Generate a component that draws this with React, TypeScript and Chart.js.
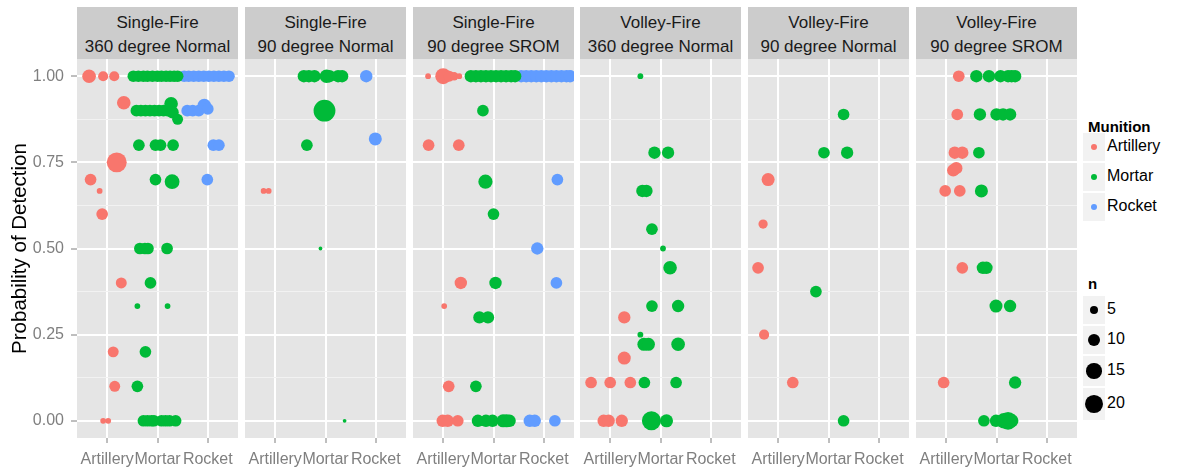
import React, { useEffect, useRef } from "react";
import { Chart, registerables } from "chart.js";

Chart.register(...registerables);

const FONT = '"Liberation Sans", Arial, Helvetica, sans-serif';

const munitions = ["Artillery", "Mortar", "Rocket"];
const munitionColors = ["#F8766D", "#00BA38", "#619CFF"];
const fireModes = ["Single-Fire", "Single-Fire", "Single-Fire", "Volley-Fire", "Volley-Fire", "Volley-Fire"];
const sectorModes = ["360 degree Normal", "90 degree Normal", "90 degree SROM", "360 degree Normal", "90 degree Normal", "90 degree SROM"];
const majorYTicks = [0, 0.25, 0.5, 0.75, 1];
const minorYTicks = [0.125, 0.375, 0.625, 0.875];
const sizeBreaks = [5, 10, 15, 20];

// Each observation: [horizontal jitter from the munition's category, probability of detection, n]
type Obs = [number, number, number];

// Single-Fire, 360 degree Normal
const sf360Artillery: Obs[] = [
  [-0.36, 1, 12], [-0.08, 1, 7], [0.14, 1, 7], [0.33, 0.923, 12], [0.19, 0.75, 25],
  [-0.33, 0.7, 9], [-0.15, 0.667, 3], [-0.1, 0.6, 9], [0.28, 0.4, 8], [0.12, 0.2, 8],
  [0.15, 0.1, 8], [-0.08, 0, 3], [0.02, 0, 3],
];
const sf360Mortar: Obs[] = [
  [-0.48, 1, 9], [-0.38, 1, 9], [-0.28, 1, 9], [-0.2, 1, 9], [-0.1, 1, 9], [0, 1, 9],
  [0.08, 1, 9], [0.17, 1, 9], [0.25, 1, 9], [0.33, 1, 9], [0.4, 1, 9],
  [-0.42, 0.9, 9], [-0.33, 0.9, 9], [-0.24, 0.9, 9], [-0.15, 0.9, 9], [-0.06, 0.9, 9],
  [0.03, 0.9, 9], [0.12, 0.9, 9], [0.2, 0.9, 9], [0.27, 0.92, 12], [0.3, 0.895, 10],
  [0.4, 0.875, 8],
  [-0.37, 0.8, 9], [-0.04, 0.8, 9], [0.06, 0.8, 9], [0.31, 0.8, 9],
  [-0.04, 0.7, 9], [0.29, 0.694, 14],
  [-0.35, 0.5, 9], [-0.25, 0.5, 9], [-0.19, 0.5, 9], [0.19, 0.5, 9],
  [-0.14, 0.4, 9], [-0.4, 0.333, 3], [0.2, 0.333, 3],
  [-0.24, 0.2, 9], [-0.4, 0.1, 9],
  [-0.28, 0, 9], [-0.2, 0, 9], [-0.12, 0, 9], [-0.07, 0, 9], [0.08, 0, 9], [0.16, 0, 9],
  [0.24, 0, 9], [0.36, 0, 9],
];
const sf360Rocket: Obs[] = [
  [-0.47, 1, 9], [-0.38, 1, 9], [-0.28, 1, 9], [-0.18, 1, 9], [-0.08, 1, 9], [0.02, 1, 9],
  [0.12, 1, 9], [0.22, 1, 9], [0.32, 1, 9], [0.42, 1, 9],
  [-0.41, 0.9, 9], [-0.3, 0.9, 9], [-0.18, 0.9, 9], [-0.07, 0.915, 12], [0, 0.905, 9],
  [0.11, 0.8, 9], [0.22, 0.8, 9], [-0.01, 0.7, 9],
];

// Single-Fire, 90 degree Normal
const sf90Artillery: Obs[] = [[-0.23, 0.667, 3], [-0.13, 0.667, 3]];
const sf90Mortar: Obs[] = [
  [-0.43, 1, 10], [-0.33, 1, 10], [-0.22, 1, 10], [0.02, 1, 12], [0.08, 1, 10], [0.25, 1, 10],
  [0.33, 1, 10], [-0.02, 0.9, 30], [-0.37, 0.8, 9], [-0.1, 0.5, 2], [0.38, 0, 2],
];
const sf90Rocket: Obs[] = [[-0.19, 1, 10], [-0.01, 0.818, 11]];

// Single-Fire, 90 degree SROM
const sf90sromArtillery: Obs[] = [
  [-0.3, 1, 3], [0, 1, 16], [0.12, 1, 8], [0.22, 1, 5], [0.32, 1, 3],
  [-0.29, 0.8, 9], [0.31, 0.8, 9], [0.35, 0.4, 10], [0.02, 0.333, 3], [0.11, 0.1, 9],
  [-0.01, 0, 10], [0.09, 0, 10], [0.29, 0, 9],
];
const sf90sromMortar: Obs[] = [
  [-0.45, 1, 10], [-0.35, 1, 10], [-0.25, 1, 10], [-0.15, 1, 10], [-0.05, 1, 10],
  [0.05, 1, 10], [0.15, 1, 10], [0.25, 1, 10], [0.35, 1, 10], [0.43, 1, 10],
  [-0.21, 0.9, 9], [-0.16, 0.694, 13], [0, 0.6, 9], [0.04, 0.4, 10],
  [-0.28, 0.3, 10], [-0.11, 0.3, 10], [-0.35, 0.1, 9],
  [-0.31, 0, 10], [-0.15, 0, 10], [-0.02, 0, 10], [0.19, 0, 11], [0.26, 0, 11], [0.32, 0, 10],
];
const sf90sromRocket: Obs[] = [
  [-0.45, 1, 10], [-0.35, 1, 10], [-0.25, 1, 10], [-0.15, 1, 10], [-0.05, 1, 10],
  [0.05, 1, 10], [0.15, 1, 10], [0.25, 1, 10], [0.35, 1, 10], [0.45, 1, 10], [0.52, 1, 10],
  [0.27, 0.7, 9], [-0.13, 0.5, 10], [0.25, 0.4, 9],
  [-0.28, 0, 10], [-0.18, 0, 10], [0.22, 0, 9],
];

// Volley-Fire, 360 degree Normal
const vf360Artillery: Obs[] = [
  [0.28, 0.3, 10], [0.28, 0.182, 11], [-0.38, 0.111, 9], [0, 0.111, 9], [0.4, 0.111, 9],
  [-0.13, 0, 10], [-0.03, 0, 10], [0.23, 0, 10],
];
const vf360Mortar: Obs[] = [
  [-0.4, 1, 3], [-0.12, 0.778, 10], [0.15, 0.778, 10], [-0.36, 0.667, 10], [-0.28, 0.667, 10],
  [-0.17, 0.556, 9], [0.05, 0.5, 3], [0.19, 0.444, 12], [-0.17, 0.333, 9], [0.35, 0.333, 10],
  [-0.4, 0.25, 3], [-0.33, 0.222, 11], [-0.24, 0.222, 11], [0.35, 0.222, 12],
  [-0.32, 0.111, 9], [0.31, 0.111, 9], [-0.18, 0, 23], [0.12, 0, 11],
];
const vf360Rocket: Obs[] = [];

// Volley-Fire, 90 degree Normal
const vf90Artillery: Obs[] = [
  [-0.2, 0.7, 11], [-0.3, 0.571, 6], [-0.4, 0.444, 9], [-0.28, 0.25, 7], [0.29, 0.111, 9],
];
const vf90Mortar: Obs[] = [
  [0.3, 0.889, 9], [-0.09, 0.778, 9], [0.37, 0.778, 10], [-0.25, 0.375, 9], [0.3, 0, 9],
];
const vf90Rocket: Obs[] = [];

// Volley-Fire, 90 degree SROM
const vf90sromArtillery: Obs[] = [
  [0.25, 1, 9], [0.22, 0.889, 9], [0.17, 0.778, 10], [0.32, 0.778, 10], [0.14, 0.727, 10],
  [0.2, 0.733, 10], [-0.02, 0.667, 9], [0.27, 0.667, 9], [0.32, 0.444, 9], [-0.05, 0.111, 9],
];
const vf90sromMortar: Obs[] = [
  [-0.4, 1, 10], [-0.15, 1, 10], [0.08, 1, 10], [0.23, 1, 10], [0.3, 1, 10], [0.37, 1, 10],
  [-0.33, 0.889, 10], [0, 0.889, 10], [0.13, 0.889, 10], [0.27, 0.889, 10],
  [-0.35, 0.778, 9], [-0.3, 0.667, 11], [-0.27, 0.444, 10], [-0.2, 0.444, 10],
  [-0.01, 0.333, 11], [0.27, 0.333, 10], [0.37, 0.111, 10],
  [-0.25, 0, 9], [-0.01, 0, 10], [0.15, 0, 15], [0.23, 0, 20], [0.3, 0, 12],
];
const vf90sromRocket: Obs[] = [];

const panelSeries: Obs[][][] = [
  [sf360Artillery, sf360Mortar, sf360Rocket],
  [sf90Artillery, sf90Mortar, sf90Rocket],
  [sf90sromArtillery, sf90sromMortar, sf90sromRocket],
  [vf360Artillery, vf360Mortar, vf360Rocket],
  [vf90Artillery, vf90Mortar, vf90Rocket],
  [vf90sromArtillery, vf90sromMortar, vf90sromRocket],
];

// Layout of the facet grid
const AXIS_W = 77;
const PANEL_W = 161;
const PANEL_STEP = 167.8;
const STRIP_TOP = 7;
const PLOT_TOP = 59;
const PLOT_H = 379;
const PAGE_W = 1201;
const PAGE_H = 470;

const panelLeft = (i: number) => Math.round(AXIS_W + i * PANEL_STEP);
const sizeRadius = (n: number) => 0.5 + 1.95 * Math.sqrt(Math.max(n - 1.5, 0));
const isMajor = (v: number) => majorYTicks.some((m) => Math.abs(m - v) < 1e-9);
const pointSize = (c: any) => (c && c.raw && typeof c.raw.n === "number" ? sizeRadius(c.raw.n) : 3);

// the panel's box is fixed, so no extra room is reserved for overhanging labels
const noPadding = (s: any) => {
  s.paddingTop = 0;
  s.paddingBottom = 0;
  s.paddingLeft = 0;
  s.paddingRight = 0;
};

const panelBackground = {
  id: "panelBackground",
  beforeDraw(chart: any) {
    const { ctx, chartArea: a } = chart;
    ctx.save();
    ctx.fillStyle = "#E5E5E5";
    ctx.fillRect(a.left, a.top, a.right - a.left, a.bottom - a.top);
    ctx.restore();
  },
};

function FacetPanel({ index }: { index: number }) {
  const ref = useRef<HTMLCanvasElement>(null);
  const first = index === 0;
  const left = first ? 0 : panelLeft(index);
  const width = first ? AXIS_W + PANEL_W : PANEL_W;
  const height = PAGE_H - PLOT_TOP;

  useEffect(() => {
    const datasets = munitions.map((m, k) => ({
      label: m,
      data: panelSeries[index][k].map(([j, p, n]) => ({ x: k + 1 + j, y: p, n })),
      backgroundColor: munitionColors[k],
      borderWidth: 0,
      pointBorderWidth: 0,
      pointRadius: pointSize,
      pointHoverRadius: pointSize,
    }));
    const yTicks = [...majorYTicks, ...minorYTicks].sort((a, b) => a - b);
    const chart = new Chart(ref.current as HTMLCanvasElement, {
      type: "scatter",
      data: { datasets },
      plugins: [panelBackground],
      options: {
        responsive: false,
        animation: false,
        events: [],
        layout: { padding: 0, autoPadding: false },
        plugins: { legend: { display: false }, tooltip: { enabled: false } },
        scales: {
          x: {
            type: "linear",
            min: 0.4,
            max: 3.6,
            afterBuildTicks: (s: any) => {
              s.ticks = [1, 2, 3].map((v) => ({ value: v }));
            },
            afterFit: (s: any) => {
              s.height = height - PLOT_H;
              noPadding(s);
            },
            border: { display: false },
            grid: {
              color: "#FFFFFF",
              lineWidth: 2,
              tickColor: "#7F7F7F",
              tickWidth: 1,
              tickLength: 5,
            },
            ticks: {
              autoSkip: false,
              maxRotation: 0,
              padding: 7,
              color: "#7F7F7F",
              font: { family: FONT, size: 16 },
              callback: (v: any) => munitions[Math.round(v) - 1],
            },
          },
          y: {
            type: "linear",
            min: -0.05,
            max: 1.05,
            afterBuildTicks: (s: any) => {
              s.ticks = yTicks.map((v) => ({ value: v }));
            },
            afterFit: (s: any) => {
              s.width = first ? AXIS_W : 0;
              noPadding(s);
            },
            border: { display: false },
            grid: {
              color: (c: any) => (isMajor(c.tick?.value ?? 0) ? "#FFFFFF" : "#F2F2F2"),
              lineWidth: (c: any) => (isMajor(c.tick?.value ?? 0) ? 2 : 1),
              drawTicks: first,
              tickColor: (c: any) => (isMajor(c.tick?.value ?? 0) ? "#7F7F7F" : "rgba(0,0,0,0)"),
              tickWidth: 1,
              tickLength: 6,
            },
            ticks: {
              display: first,
              padding: 7,
              color: "#7F7F7F",
              font: { family: FONT, size: 16 },
              callback: (v: any) => (isMajor(v) ? Number(v).toFixed(2) : ""),
            },
            title: {
              display: first,
              text: "Probability of Detection",
              color: "#000000",
              font: { family: FONT, size: 20.5 },
              padding: { top: 8, bottom: 0 },
            },
          },
        },
      } as any,
    });
    return () => chart.destroy();
  }, [index]);

  return (
    <canvas
      ref={ref}
      width={width}
      height={height}
      style={{ position: "absolute", left, top: PLOT_TOP, width, height }}
    />
  );
}

function Strip({ index }: { index: number }) {
  const left = panelLeft(index);
  const line = (text: string, centerY: number) => (
    <div
      style={{
        position: "absolute",
        left: 0,
        width: PANEL_W,
        top: centerY - STRIP_TOP - 12,
        height: 24,
        lineHeight: "24px",
        textAlign: "center",
        whiteSpace: "nowrap",
      }}
    >
      {text}
    </div>
  );
  return (
    <div
      style={{
        position: "absolute",
        left,
        top: STRIP_TOP,
        width: PANEL_W,
        height: PLOT_TOP - STRIP_TOP,
        background: "#CCCCCC",
        color: "#1A1A1A",
        font: `17px ${FONT}`,
      }}
    >
      {line(fireModes[index], 23.3)}
      {line(sectorModes[index], 46.7)}
    </div>
  );
}

function Legend() {
  const keyLeft = 1083;
  const keyW = 22;
  const textLeft = 1107;
  const munitionTops = [133, 163, 193];
  const sizeTops = [296, 326, 356, 388];
  const sizeHeights = [28, 28, 30, 32];
  const label = (text: string, cy: number) => (
    <div style={{ position: "absolute", left: textLeft, top: cy - 10, height: 20, lineHeight: "20px", font: `16px ${FONT}`, color: "#000" }}>
      {text}
    </div>
  );
  const dot = (cy: number, r: number, color: string) => (
    <div
      style={{
        position: "absolute",
        left: keyLeft + keyW / 2 - r,
        top: cy - r,
        width: 2 * r,
        height: 2 * r,
        borderRadius: "50%",
        background: color,
      }}
    />
  );
  return (
    <>
      <div style={{ position: "absolute", left: 1088, top: 118, lineHeight: "20px", font: `bold 15px ${FONT}`, color: "#000" }}>
        Munition
      </div>
      {munitions.map((m, k) => {
        const top = munitionTops[k];
        const cy = top + 14;
        return (
          <React.Fragment key={m}>
            <div style={{ position: "absolute", left: keyLeft, top, width: keyW, height: 28, background: "#F2F2F2" }} />
            {dot(cy, 3.2, munitionColors[k])}
            {label(m, cy)}
          </React.Fragment>
        );
      })}
      <div style={{ position: "absolute", left: 1088, top: 275, lineHeight: "20px", font: `bold 15px ${FONT}`, color: "#000" }}>
        n
      </div>
      {sizeBreaks.map((n, k) => {
        const top = sizeTops[k];
        const cy = top + sizeHeights[k] / 2;
        return (
          <React.Fragment key={n}>
            <div style={{ position: "absolute", left: keyLeft, top, width: keyW, height: sizeHeights[k], background: "#F2F2F2" }} />
            {dot(cy, sizeRadius(n), "#000000")}
            {label(String(n), cy)}
          </React.Fragment>
        );
      })}
    </>
  );
}

export default function App() {
  return (
    <div
      style={{
        position: "absolute",
        left: 0,
        top: 0,
        width: PAGE_W,
        height: PAGE_H,
        background: "#FFFFFF",
        overflow: "hidden",
        fontFamily: FONT,
      }}
    >
      {fireModes.map((_, i) => (
        <Strip key={"s" + i} index={i} />
      ))}
      {fireModes.map((_, i) => (
        <FacetPanel key={"p" + i} index={i} />
      ))}
      <Legend />
    </div>
  );
}
